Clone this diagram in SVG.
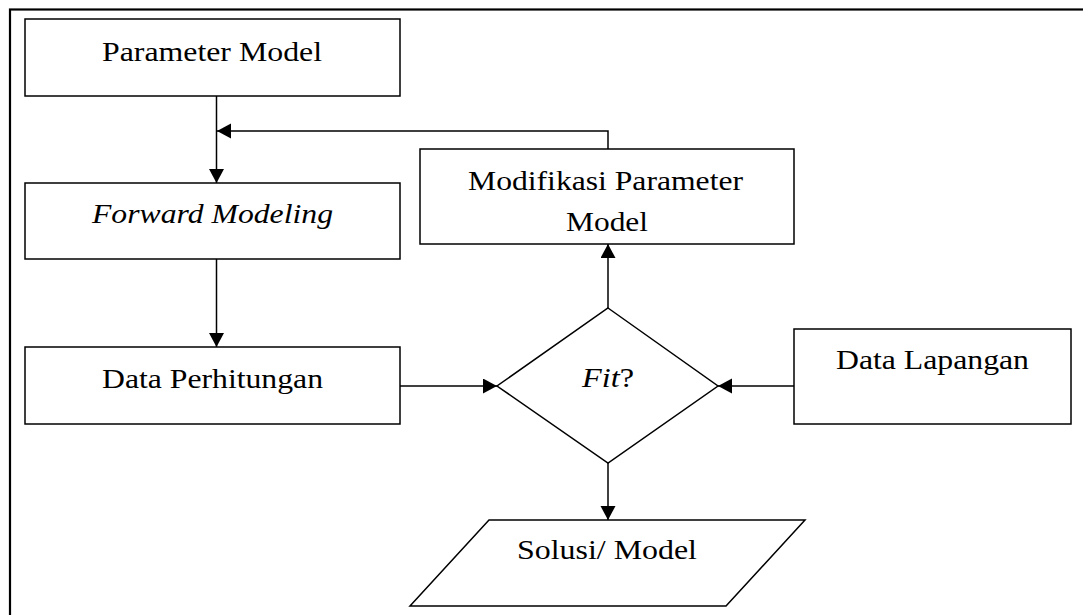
<svg xmlns="http://www.w3.org/2000/svg" width="1083" height="615" viewBox="0 0 1083 615">
  <style>
    .box { fill: #fff; stroke: #000; stroke-width: 1.5; }
    .frame { fill: none; stroke: #000; stroke-width: 2.2; }
    .lbl { font-family: "Times New Roman", "Liberation Serif", Tinos, Times, serif; font-size: 28px; fill: #000; }
    .it { font-style: italic; }
    .wire { fill: none; stroke: #000; stroke-width: 1.5; }
  </style>
  <defs>
    <marker id="arrow" markerWidth="15" markerHeight="16" refX="14" refY="7.5" orient="auto" markerUnits="userSpaceOnUse">
      <path d="M0,0 L14,7.5 L0,15 Z" fill="#000"/>
    </marker>
  </defs>

  <rect fill="#fff" x="0" y="0" width="1083" height="615"/>
  <!-- outer frame running past the right and bottom edges -->
  <rect class="frame" x="10" y="9.5" width="1100" height="700"/>

  <g id="connectors">
    <path class="wire" d="M216.5,96 V183" marker-end="url(#arrow)"/>
    <path class="wire" d="M608,149 V131 H217" marker-end="url(#arrow)"/>
    <path class="wire" d="M216.5,259 V347" marker-end="url(#arrow)"/>
    <path class="wire" d="M400,386 H497" marker-end="url(#arrow)"/>
    <path class="wire" d="M794,386 H718" marker-end="url(#arrow)"/>
    <path class="wire" d="M608,308 V244" marker-end="url(#arrow)"/>
    <path class="wire" d="M608,463 V520" marker-end="url(#arrow)"/>
  </g>

  <g id="parameter-model">
    <rect class="box" x="25" y="19" width="375" height="77"/>
    <text class="lbl" x="102" y="61" textLength="220" lengthAdjust="spacingAndGlyphs">Parameter Model</text>
  </g>

  <g id="forward-modeling">
    <rect class="box" x="25" y="183" width="375" height="76"/>
    <text class="lbl it" x="92" y="223" textLength="241" lengthAdjust="spacingAndGlyphs">Forward Modeling</text>
  </g>

  <g id="modifikasi-parameter">
    <rect class="box" x="420" y="149" width="374" height="95"/>
    <text class="lbl" x="468" y="190" textLength="275" lengthAdjust="spacingAndGlyphs">Modifikasi Parameter</text>
    <text class="lbl" x="566" y="231" textLength="82" lengthAdjust="spacingAndGlyphs">Model</text>
  </g>

  <g id="data-perhitungan">
    <rect class="box" x="25" y="347" width="375" height="77"/>
    <text class="lbl" x="102" y="388" textLength="221" lengthAdjust="spacingAndGlyphs">Data Perhitungan</text>
  </g>

  <g id="fit">
    <polygon class="box" points="608,308 718,386 608,463 497,386"/>
    <text class="lbl" x="582" y="387" textLength="52" lengthAdjust="spacingAndGlyphs"><tspan class="it">Fit</tspan>?</text>
  </g>

  <g id="data-lapangan">
    <rect class="box" x="794" y="329" width="277" height="95"/>
    <text class="lbl" x="836" y="369" textLength="193" lengthAdjust="spacingAndGlyphs">Data Lapangan</text>
  </g>

  <g id="solusi-model">
    <polygon class="box" points="489,520 805,520 726,606 410,606"/>
    <text class="lbl" x="517" y="559" textLength="180" lengthAdjust="spacingAndGlyphs">Solusi/ Model</text>
  </g>
</svg>
